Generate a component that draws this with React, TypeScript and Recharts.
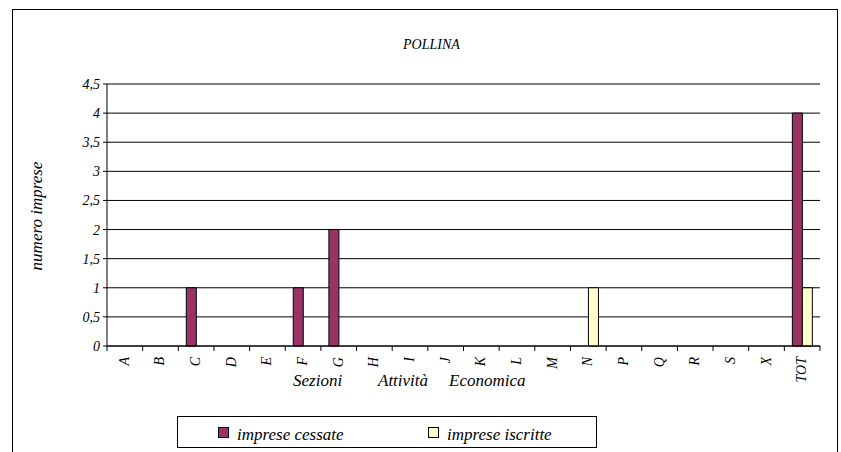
import React from "react";
import {
  Bar,
  BarChart,
  CartesianGrid,
  ReferenceLine,
  XAxis,
  YAxis,
} from "recharts";

const sezioni = [
  "A", "B", "C", "D", "E", "F", "G", "H", "I", "J",
  "K", "L", "M", "N", "P", "Q", "R", "S", "X", "TOT",
];
const impreseCessate = [0, 0, 1, 0, 0, 1, 2, 0, 0, 0, 0, 0, 0, 0, 0, 0, 0, 0, 0, 4];
const impreseIscritte = [0, 0, 0, 0, 0, 0, 0, 0, 0, 0, 0, 0, 0, 1, 0, 0, 0, 0, 0, 1];
const yTicks = [0, 0.5, 1, 1.5, 2, 2.5, 3, 3.5, 4, 4.5];

const chartData = sezioni.map((s, i) => ({
  sezione: s,
  cessate: impreseCessate[i],
  iscritte: impreseIscritte[i],
}));

const W = 841;
const H = 452;
const PLOT_LEFT = 107;
const PLOT_RIGHT = 820;
const PLOT_TOP = 84;
const PLOT_BOTTOM = 346;
const band = (PLOT_RIGHT - PLOT_LEFT) / sezioni.length;

const serif = "Liberation Serif";
const CESSATE = "#993366";
const ISCRITTE = "#FFFFCC";

// category ticks sit on the band edges, labels are turned to read upwards
function SezioneTick(props: any) {
  const { x, payload, index } = props;
  const y = PLOT_BOTTOM;
  const tx = x + 4;
  const ty = y + 11;
  return (
    <g>
      <line x1={x - band / 2} x2={x - band / 2} y1={y} y2={y + 5} stroke="#000" />
      {index === sezioni.length - 1 && (
        <line x1={x + band / 2} x2={x + band / 2} y1={y} y2={y + 5} stroke="#000" />
      )}
      <text
        x={tx}
        y={ty}
        transform={`rotate(-90 ${tx} ${ty})`}
        textAnchor="end"
        style={{ fontFamily: serif, fontStyle: "italic", fontSize: 14 }}
        fill="#000"
      >
        {payload.value}
      </text>
    </g>
  );
}

function Txt(props: any) {
  const { size, children, ...rest } = props;
  return (
    <text
      {...rest}
      fill="#000"
      style={{ fontFamily: serif, fontStyle: "italic", fontSize: size }}
    >
      {children}
    </text>
  );
}

export default function App() {
  return (
    <div
      style={{
        position: "absolute",
        left: 0,
        top: 0,
        width: W,
        height: H,
        overflow: "hidden",
        background: "#fff",
      }}
    >
      <div
        style={{
          position: "absolute",
          left: 12,
          top: 9,
          width: 826,
          height: 470,
          border: "1px solid #000",
          boxSizing: "border-box",
        }}
      />
      <div style={{ position: "absolute", left: 0, top: 0 }}>
        <BarChart
          width={W}
          height={H}
          data={chartData}
          barGap={0}
          margin={{ top: PLOT_TOP, right: W - PLOT_RIGHT, bottom: 0, left: 12 }}
        >
          <CartesianGrid vertical={false} stroke="#000" />
          <XAxis
            dataKey="sezione"
            interval={0}
            height={H - PLOT_BOTTOM}
            tickSize={0}
            tickMargin={0}
            tickLine={false}
            axisLine={{ stroke: "#000" }}
            tick={<SezioneTick />}
          />
          <YAxis
            width={PLOT_LEFT - 12}
            domain={[0, 4.5]}
            ticks={yTicks}
            interval={0}
            tickSize={4}
            tickMargin={3}
            tickLine={{ stroke: "#000" }}
            axisLine={{ stroke: "#000" }}
            tickFormatter={(v: number) => String(v).replace(".", ",")}
            tick={{
              fill: "#000",
              fontSize: 14,
              style: { fontFamily: serif, fontStyle: "italic" },
            }}
          />
          <YAxis
            yAxisId="frame"
            orientation="right"
            width={0}
            domain={[0, 4.5]}
            tick={false}
            tickLine={false}
            axisLine={{ stroke: "#808080" }}
          />
          <ReferenceLine y={4.5} stroke="#808080" />
          <Bar
            dataKey="cessate"
            fill={CESSATE}
            stroke="#000"
            barSize={10}
            isAnimationActive={false}
          />
          <Bar
            dataKey="iscritte"
            fill={ISCRITTE}
            stroke="#000"
            barSize={10}
            isAnimationActive={false}
          />
        </BarChart>
      </div>
      <svg
        width={W}
        height={H}
        style={{ position: "absolute", left: 0, top: 0, pointerEvents: "none" }}
      >
        <Txt x={403} y={49} size={14}>
          POLLINA
        </Txt>
        <Txt x={42} y={216} transform="rotate(-90 42 216)" textAnchor="middle" size={17}>
          numero imprese
        </Txt>
        <Txt y={386} size={17}>
          <tspan x={293}>Sezioni</tspan>
          <tspan x={378}>Attività</tspan>
          <tspan x={449}>Economica</tspan>
        </Txt>
        <rect x={177.5} y={416.5} width={419} height={31} fill="#fff" stroke="#000" />
        <rect x={218.5} y={427.5} width={10} height={10} fill={CESSATE} stroke="#000" />
        <Txt x={237} y={440} size={17}>
          imprese cessate
        </Txt>
        <rect x={428.5} y={427.5} width={10} height={10} fill={ISCRITTE} stroke="#000" />
        <Txt x={447} y={440} size={17}>
          imprese iscritte
        </Txt>
      </svg>
    </div>
  );
}
